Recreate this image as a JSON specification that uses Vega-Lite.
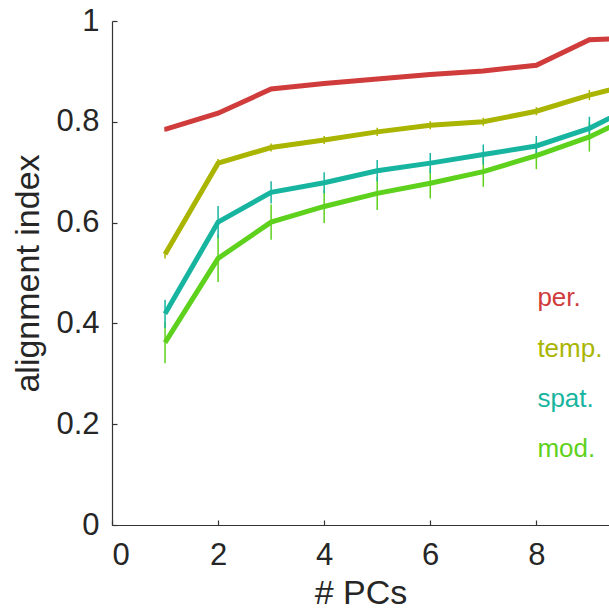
{
  "$schema": "https://vega.github.io/schema/vega-lite/v6.json",
  "width": 497,
  "height": 504,
  "autosize": {"type": "none"},
  "padding": {"left": 112, "top": 21, "right": 0, "bottom": 86},
  "background": "white",
  "config": {
    "view": {"stroke": null},
    "font": "Liberation Sans",
    "axis": {
      "grid": false,
      "domainColor": "#333333",
      "tickColor": "#333333",
      "labelColor": "#262626",
      "titleColor": "#262626",
      "labelFont": "Liberation Sans",
      "titleFont": "Liberation Sans",
      "labelFontSize": 31,
      "titleFontSize": 34,
      "titleFontWeight": "normal",
      "tickSize": -5,
      "domainWidth": 1.2,
      "tickWidth": 1.2
    }
  },
  "data": {
    "values": [
      {"s": "per.", "x": 1, "y": 0.785, "lo": 0.781, "hi": 0.789},
      {"s": "per.", "x": 2, "y": 0.817, "lo": 0.813, "hi": 0.821},
      {"s": "per.", "x": 3, "y": 0.865, "lo": 0.861, "hi": 0.869},
      {"s": "per.", "x": 4, "y": 0.876, "lo": 0.872, "hi": 0.880},
      {"s": "per.", "x": 5, "y": 0.885, "lo": 0.881, "hi": 0.889},
      {"s": "per.", "x": 6, "y": 0.894, "lo": 0.890, "hi": 0.898},
      {"s": "per.", "x": 7, "y": 0.901, "lo": 0.897, "hi": 0.905},
      {"s": "per.", "x": 8, "y": 0.912, "lo": 0.908, "hi": 0.916},
      {"s": "per.", "x": 9, "y": 0.963, "lo": 0.959, "hi": 0.967},
      {"s": "per.", "x": 10, "y": 0.966, "lo": 0.962, "hi": 0.970},
      {"s": "temp.", "x": 1, "y": 0.537, "lo": 0.529, "hi": 0.545},
      {"s": "temp.", "x": 2, "y": 0.718, "lo": 0.710, "hi": 0.726},
      {"s": "temp.", "x": 3, "y": 0.749, "lo": 0.741, "hi": 0.757},
      {"s": "temp.", "x": 4, "y": 0.764, "lo": 0.756, "hi": 0.772},
      {"s": "temp.", "x": 5, "y": 0.780, "lo": 0.772, "hi": 0.788},
      {"s": "temp.", "x": 6, "y": 0.793, "lo": 0.785, "hi": 0.801},
      {"s": "temp.", "x": 7, "y": 0.800, "lo": 0.792, "hi": 0.808},
      {"s": "temp.", "x": 8, "y": 0.821, "lo": 0.813, "hi": 0.829},
      {"s": "temp.", "x": 9, "y": 0.853, "lo": 0.843, "hi": 0.863},
      {"s": "temp.", "x": 10, "y": 0.880, "lo": 0.872, "hi": 0.888},
      {"s": "mod.", "x": 1, "y": 0.362, "lo": 0.321, "hi": 0.403},
      {"s": "mod.", "x": 2, "y": 0.529, "lo": 0.482, "hi": 0.576},
      {"s": "mod.", "x": 3, "y": 0.601, "lo": 0.566, "hi": 0.636},
      {"s": "mod.", "x": 4, "y": 0.632, "lo": 0.599, "hi": 0.665},
      {"s": "mod.", "x": 5, "y": 0.658, "lo": 0.625, "hi": 0.691},
      {"s": "mod.", "x": 6, "y": 0.678, "lo": 0.648, "hi": 0.708},
      {"s": "mod.", "x": 7, "y": 0.701, "lo": 0.671, "hi": 0.731},
      {"s": "mod.", "x": 8, "y": 0.733, "lo": 0.706, "hi": 0.760},
      {"s": "mod.", "x": 9, "y": 0.770, "lo": 0.741, "hi": 0.799},
      {"s": "mod.", "x": 10, "y": 0.820, "lo": 0.790, "hi": 0.850},
      {"s": "spat.", "x": 1, "y": 0.419, "lo": 0.391, "hi": 0.447},
      {"s": "spat.", "x": 2, "y": 0.601, "lo": 0.569, "hi": 0.633},
      {"s": "spat.", "x": 3, "y": 0.660, "lo": 0.638, "hi": 0.682},
      {"s": "spat.", "x": 4, "y": 0.679, "lo": 0.658, "hi": 0.700},
      {"s": "spat.", "x": 5, "y": 0.703, "lo": 0.682, "hi": 0.724},
      {"s": "spat.", "x": 6, "y": 0.718, "lo": 0.698, "hi": 0.738},
      {"s": "spat.", "x": 7, "y": 0.735, "lo": 0.715, "hi": 0.755},
      {"s": "spat.", "x": 8, "y": 0.752, "lo": 0.732, "hi": 0.772},
      {"s": "spat.", "x": 9, "y": 0.787, "lo": 0.764, "hi": 0.810},
      {"s": "spat.", "x": 10, "y": 0.840, "lo": 0.820, "hi": 0.860}
    ]
  },
  "layer": [
    {
      "mark": {"type": "rule", "strokeWidth": 1.5, "clip": true},
      "encoding": {
        "x": {"field": "x", "type": "quantitative", "scale": {"domain": [0, 9.37], "nice": false, "zero": false},
          "axis": {"title": "# PCs", "values": [0, 2, 4, 6, 8], "labelPadding": 20, "titlePadding": 6}},
        "y": {"field": "lo", "type": "quantitative", "scale": {"domain": [0, 1], "nice": false},
          "axis": {"title": "alignment index", "values": [0, 0.2, 0.4, 0.6, 0.8, 1], "format": "~g", "labelPadding": 18, "titlePadding": 10}},
        "y2": {"field": "hi"},
        "color": {"field": "s", "type": "nominal", "legend": null,
          "scale": {"domain": ["per.", "temp.", "spat.", "mod."], "range": ["#d03b3b", "#a9b500", "#17b5a0", "#5dd11c"]}}
      }
    },
    {
      "mark": {"type": "line", "strokeWidth": 5, "clip": true},
      "encoding": {
        "x": {"field": "x", "type": "quantitative"},
        "y": {"field": "y", "type": "quantitative"},
        "color": {"field": "s", "type": "nominal"},
        "detail": {"field": "s"}
      }
    },
    {
      "data": {
        "values": [
          {"s": "per.", "x": 8.02, "y": 0.45},
          {"s": "temp.", "x": 8.02, "y": 0.35},
          {"s": "spat.", "x": 8.02, "y": 0.25},
          {"s": "mod.", "x": 8.02, "y": 0.15}
        ]
      },
      "mark": {"type": "text", "align": "left", "baseline": "middle", "fontSize": 26, "font": "Liberation Sans"},
      "encoding": {
        "x": {"field": "x", "type": "quantitative"},
        "y": {"field": "y", "type": "quantitative"},
        "text": {"field": "s"},
        "color": {"field": "s", "type": "nominal"}
      }
    }
  ]
}
